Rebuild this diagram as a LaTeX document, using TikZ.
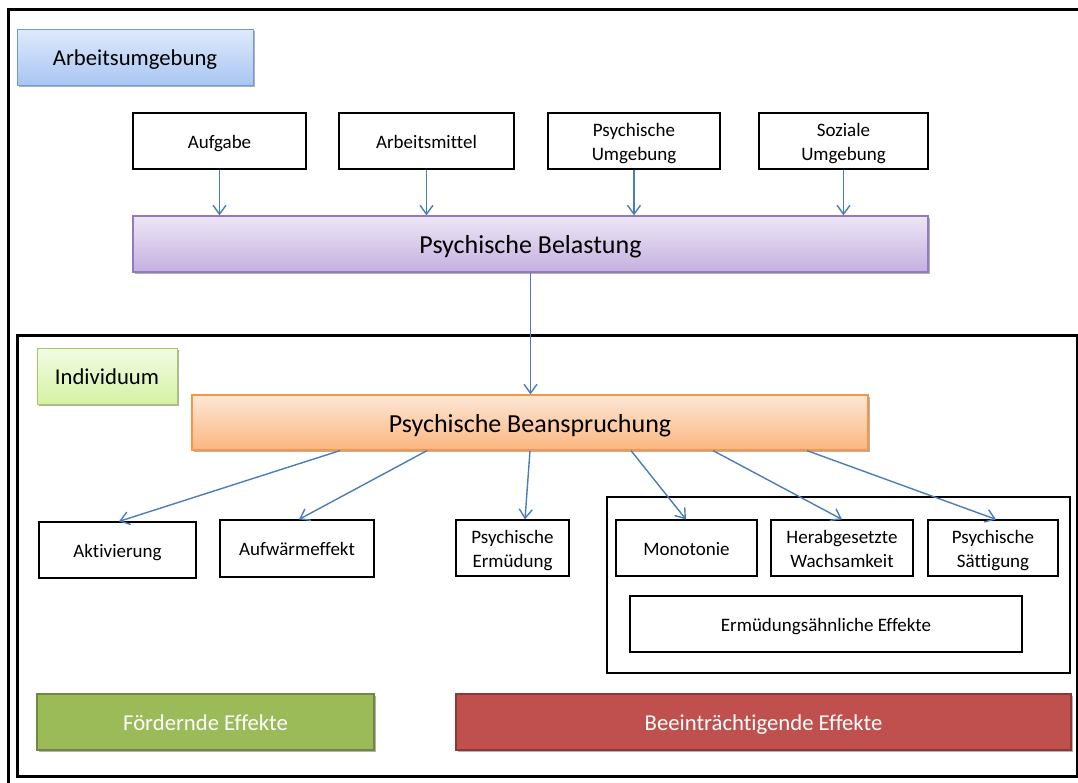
\documentclass[tikz,border=0pt]{standalone}
\usepackage{fontspec}
\setmainfont[Ligatures=NoCommon]{Carlito}
\usetikzlibrary{arrows.meta,shadows}
\definecolor{arrowblue}{HTML}{4A7EBB}
\definecolor{bluetop}{HTML}{DFEAFC}
\definecolor{bluebot}{HTML}{A8C6F2}
\definecolor{blueline}{HTML}{6F9AD5}
\definecolor{purptop}{HTML}{EDE6F6}
\definecolor{purpbot}{HTML}{C4B0DF}
\definecolor{purpline}{HTML}{9478C0}
\definecolor{greentop}{HTML}{F3FCE4}
\definecolor{greenbot}{HTML}{D5F2A3}
\definecolor{greenline}{HTML}{A5C86A}
\definecolor{orangetop}{HTML}{FDE7D6}
\definecolor{orangebot}{HTML}{FBB67F}
\definecolor{orangeline}{HTML}{F79646}
\definecolor{goodfill}{HTML}{9BBB59}
\definecolor{goodline}{HTML}{71893F}
\definecolor{badfill}{HTML}{C0504D}
\definecolor{badline}{HTML}{8C3836}
\newcommand\fsmall{\fontsize{19}{24}\selectfont}
\newcommand\fmid{\fontsize{22.7}{27}\selectfont}
\newcommand\fbig{\fontsize{26}{30}\selectfont}
\newcommand\twolines[2]{\begin{tabular}[t]{@{}c@{}}#1\\#2\end{tabular}}
\tikzset{
  wbox/.style={draw=black, line width=1.2pt, fill=white, inner sep=0pt,
    font=\fsmall, minimum height=56pt},
  onesmall/.style={text height=14pt, text depth=0pt},
  twoline/.style={text height=16.8pt, text depth=26.8pt},
  shadowed/.style={drop shadow={shadow xshift=1.5pt, shadow yshift=-2pt, opacity=.3, fill=black}},
  headbox/.style={shadowed, text height=16.8pt, text depth=0pt, line width=1pt, inner sep=0pt, minimum height=56pt, font=\fmid},
  bigbox/.style={shadowed, text height=19.2pt, text depth=0pt, line width=1.2pt, inner sep=0pt, minimum height=56pt, font=\fbig},
  effbox/.style={shadowed, text height=16.8pt, text depth=0pt, line width=2pt, inner sep=0pt, minimum height=56pt, font=\fmid, text=white},
  conn/.style={draw=arrowblue, line width=1.4pt, -{Straight Barb[length=9pt,width=13pt,line width=1.4pt]}},
  frame/.style={draw=black, line width=3.5pt}
}
\begin{document}
\begin{tikzpicture}[x=1pt,y=-1pt]
\useasboundingbox (0,0) rectangle (1078,782);
\fill[white] (0,0) rectangle (1078,782);
% frames
\draw[frame] (8.5,800) -- (8.5,9.5) -- (1100,9.5);
\draw[frame, line width=3pt] (17,335.5) rectangle (1077,776.5);
% Arbeitsumgebung
\node[headbox, top color=bluetop, bottom color=bluebot, draw=blueline, minimum width=236pt] (arb) at (135,57) {Arbeitsumgebung};
\node[wbox, onesmall, minimum width=173pt] (aufg) at (219.5,141) {Aufgabe};
\node[wbox, onesmall, minimum width=175pt] (mittel) at (426.5,141) {Arbeitsmittel};
\node[wbox, twoline, minimum width=172pt] (pumg) at (634,141) {\twolines{Psychische}{Umgebung}};
\node[wbox, twoline, minimum width=169pt] (sumg) at (843.5,141) {\twolines{Soziale}{Umgebung}};
\node[bigbox, top color=purptop, bottom color=purpbot, draw=purpline, minimum width=795pt] (bel) at (530.5,244) {Psychische Belastung};
\draw[conn] (aufg) -- (aufg |- bel.north);
\draw[conn] (mittel) -- (mittel |- bel.north);
\draw[conn] (pumg) -- (pumg |- bel.north);
\draw[conn] (sumg) -- (sumg |- bel.north);
% Individuum
\node[headbox, top color=greentop, bottom color=greenbot, draw=greenline, minimum width=140pt] (ind) at (107,376) {Individuum};
\node[bigbox, top color=orangetop, bottom color=orangebot, draw=orangeline, minimum width=676pt, minimum height=55pt] (bea) at (530,422.5) {Psychische Beanspruchung};
\draw[conn] (bel) -- (bel |- bea.north);
% effects
\node[wbox, onesmall, minimum width=157pt] (akt) at (117.5,550) {Aktivierung};
\node[wbox, onesmall, minimum width=154pt, minimum height=57pt] (aufw) at (297,548.5) {Aufwärmeffekt};
\node[wbox, twoline, minimum width=113pt] (erm) at (512.5,548) {\twolines{Psychische}{Ermüdung}};
\node[wbox, minimum width=463pt, minimum height=176pt] (grp) at (838.5,585) {};
\node[wbox, onesmall, minimum width=141pt] (mono) at (686.5,548) {Monotonie};
\node[wbox, twoline, minimum width=142pt] (wach) at (842,548) {\twolines{Herabgesetzte}{Wachsamkeit}};
\node[wbox, twoline, minimum width=130pt] (satt) at (993,548) {\twolines{Psychische}{Sättigung}};
\node[wbox, onesmall, minimum width=392pt] (aehn) at (826,624) {Ermüdungsähnliche Effekte};
\draw[conn] (340,0 |- bea.south) -- (119,0 |- akt.north);
\draw[conn] (427,0 |- bea.south) -- (299,0 |- aufw.north);
\draw[conn] (530,0 |- bea.south) -- (525,0 |- erm.north);
\draw[conn] (631,0 |- bea.south) -- (686,0 |- mono.north);
\draw[conn] (713,0 |- bea.south) -- (842,0 |- wach.north);
\draw[conn] (807,0 |- bea.south) -- (996,0 |- satt.north);
% bottom bars
\node[effbox, fill=goodfill, draw=goodline, minimum width=337pt] (foerd) at (205.5,722) {Fördernde Effekte};
\node[effbox, fill=badfill, draw=badline, minimum width=615pt] (beein) at (763.5,722) {Beeinträchtigende Effekte};
\end{tikzpicture}
\end{document}
